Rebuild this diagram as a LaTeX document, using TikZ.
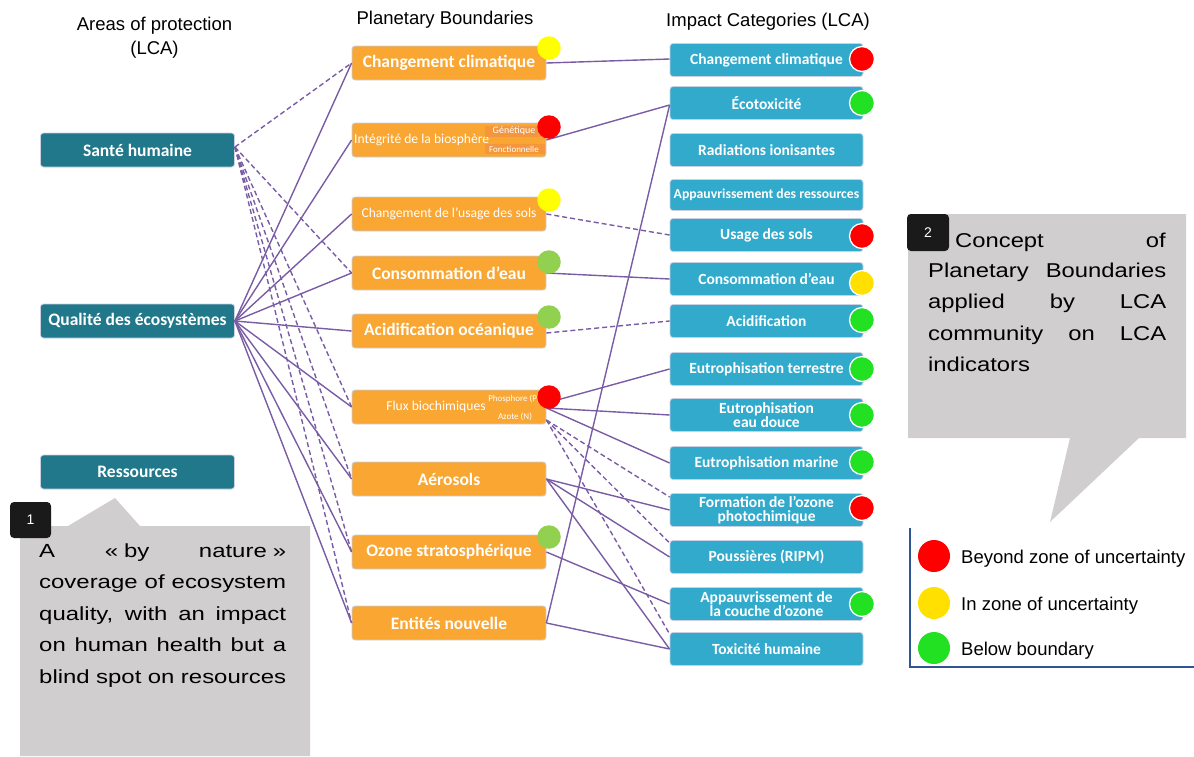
\documentclass[tikz,border=0pt]{standalone}
\usepackage{fontspec}
\setmainfont{Liberation Sans}
\newfontfamily\boxfont{Carlito}
\usetikzlibrary{calc}

\definecolor{aopteal}{RGB}{33,120,138}
\definecolor{pborange}{RGB}{249,166,50}
\definecolor{icblue}{RGB}{49,170,204}
\definecolor{linkpurple}{RGB}{122,92,165}
\definecolor{boxedge}{RGB}{200,208,225}
\definecolor{calloutgray}{RGB}{208,206,206}
\definecolor{badgeblack}{RGB}{26,26,26}
\definecolor{legendblue}{RGB}{47,85,150}
\definecolor{dotred}{RGB}{255,0,0}
\definecolor{dotyellow}{RGB}{255,255,0}
\definecolor{dotgold}{RGB}{255,224,0}
\definecolor{dotlime}{RGB}{146,208,80}
\definecolor{dotgreen}{RGB}{34,224,34}
\definecolor{tagorange}{RGB}{243,150,60}

\tikzset{
  basebox/.style={rectangle, rounded corners=3pt, draw=boxedge, line width=0.8pt,
    inner sep=0pt, text=white, align=center},
  aop/.style={basebox, fill=aopteal, minimum width=194pt, minimum height=34pt,
    font=\boxfont\bfseries\fontsize{17.5}{19}\selectfont},
  pb/.style={basebox, fill=pborange, minimum width=194pt, minimum height=34pt},
  pbbig/.style={pb, font=\boxfont\bfseries\fontsize{17.5}{19}\selectfont},
  pbsmall/.style={pb, font=\boxfont\fontsize{13.6}{15}\selectfont},
  pblabel/.style={text=white, inner sep=0pt, font=\boxfont\fontsize{13.6}{15}\selectfont},
  pbtag/.style={text=white, inner sep=0pt, font=\boxfont\fontsize{9}{10}\selectfont},
  ic/.style={basebox, fill=icblue, minimum width=193pt, minimum height=33pt,
    font=\boxfont\bfseries\fontsize{15.5}{14.5}\selectfont},
  link/.style={draw=linkpurple, line width=1.4pt},
  dlink/.style={link, dash pattern=on 5pt off 3pt},
  head/.style={inner sep=0pt, font=\fontsize{18.5}{22}\selectfont, anchor=base},
  badge/.style={rectangle, rounded corners=4pt, fill=badgeblack, text=white,
    font=\fontsize{14}{16}\selectfont, inner sep=0pt},
  legtext/.style={anchor=west, inner sep=0pt, font=\fontsize{18.5}{22}\selectfont},
  dot/.style={circle, inner sep=0pt, minimum size=23.5pt},
  icdot/.style={circle, inner sep=0pt, minimum size=25pt, draw=white, line width=1.3pt},
}

\begin{document}
\begin{tikzpicture}[x=1pt, y=-1pt]
\useasboundingbox (0,0) rectangle (1194,756);

% column headings
\node[head] (hAop) at (154.5,30) {Areas of protection};
\node[head] (hAop2) at (154.5,54) {(LCA)};
\node[head] (hPb) at (445,24) {Planetary Boundaries};
\node[head] (hIc) at (768,26) {Impact Categories (LCA)};

% areas of protection
\node[aop] (sh) at (137.5,150) {Santé humaine};
\node[aop] (qe) at (137.5,321) {Qualité des écosystèmes};
\node[aop] (rs) at (137.5,472) {Ressources};

% planetary boundaries
\node[pbbig]   (pb1) at (449,63)  {Changement climatique};
\node[pb]      (pb2) at (449,140) {};
\node[pbsmall] (pb3) at (449,214) {Changement de l’usage des sols};
\node[pbbig]   (pb4) at (449,273) {Consommation d’eau};
\node[pbbig]   (pb5) at (449,331) {Acidification océanique};
\node[pb]      (pb6) at (449,407) {};
\node[pbbig]   (pb7) at (449,479) {Aérosols};
\node[pbbig]   (pb8) at (449,552) {Ozone stratosphérique};
\node[pbbig]   (pb9) at (449,623) {Entités nouvelle};

\node[pblabel, anchor=west] (pb2t) at (354,140) {Intégrité de la biosphère};
\fill[tagorange] (485,126) rectangle (541,137);
\fill[tagorange] (485,144) rectangle (545,154);
\node[pbtag, font=\boxfont\fontsize{10}{10}\selectfont] (pb2a) at (514,131) {Génétique};
\node[pbtag] (pb2b) at (514,149) {Fonctionnelle};

\node[pblabel] (pb6t) at (436,407) {Flux biochimiques};
\node[pbtag] (pb6a) at (514,399) {Phosphore (P)};
\node[pbtag] (pb6b) at (515,417) {Azote (N)};

% impact categories
\node[ic] (ic1)  at (766.5,60)  {Changement climatique};
\node[ic] (ic2)  at (766.5,103) {Écotoxicité};
\node[ic] (ic3)  at (766.5,150) {Radiations ionisantes};
\node[ic, minimum height=31pt, font=\boxfont\bfseries\fontsize{13.7}{14}\selectfont]
          (ic4)  at (766.5,195) {Appauvrissement des ressources};
\node[ic] (ic5)  at (766.5,235) {Usage des sols};
\node[ic] (ic6)  at (766.5,279) {Consommation d’eau};
\node[ic] (ic7)  at (766.5,321) {Acidification};
\node[ic] (ic8)  at (766.5,369) {Eutrophisation terrestre};
\node[ic] (ic9)  at (766.5,415) {Eutrophisation\\eau douce};
\node[ic] (ic10) at (766.5,463) {Eutrophisation marine};
\node[ic] (ic11) at (766.5,510) {Formation de l’ozone\\photochimique};
\node[ic] (ic12) at (766.5,557) {Poussières (RIPM)};
\node[ic] (ic13) at (766.5,604) {Appauvrissement de\\la couche d’ozone};
\node[ic] (ic14) at (766.5,649) {Toxicité humaine};

% links: areas of protection -> planetary boundaries
\foreach \t in {pb1,pb4,pb6,pb7,pb8,pb9}
  \draw[dlink] ([yshift=3pt]sh.east) -- (\t.west);
\foreach \t in {pb1,pb2,pb3,pb4,pb5,pb6,pb7,pb8,pb9}
  \draw[link] (qe.east) -- (\t.west);

% links: planetary boundaries -> impact categories
\draw[link]  (pb1.east) -- ([yshift=1pt]ic1.west);
\draw[link]  (pb2.east) -- ([yshift=-2pt]ic2.west);
\draw[link]  (pb9.east) -- ([yshift=-2pt]ic2.west);
\draw[dlink] (pb3.east) -- (ic5.west);
\draw[link]  (pb4.east) -- (ic6.west);
\draw[dlink] ([yshift=-2pt]pb5.east) -- (ic7.west);
\draw[link]  ([yshift=4pt]pb6.east) -- (ic8.west);
\draw[link]  ([yshift=-1pt]pb6.east) -- (ic9.west);
\draw[link]  ([yshift=-1pt]pb6.east) -- (ic10.west);
\draw[dlink] ([yshift=-13pt]pb6.east) -- ([yshift=13pt]ic11.west);
\draw[dlink] ([yshift=-13pt]pb6.east) -- ([yshift=14pt]ic12.west);
\draw[dlink] ([yshift=-13pt]pb6.east) -- ([yshift=15pt]ic14.west);
\draw[link]  (pb7.east) -- (ic11.west);
\draw[link]  (pb7.east) -- (ic12.west);
\draw[link]  (pb7.east) -- (ic14.west);
\draw[link]  (pb8.east) -- (ic13.west);
\draw[link]  (pb9.east) -- (ic14.west);

% status dots on planetary boundaries
\node[dot, fill=dotyellow] (d1) at (549,48)  {};
\node[dot, fill=dotred]    (d2) at (549,127) {};
\node[dot, fill=dotyellow] (d3) at (549,200) {};
\node[dot, fill=dotlime]   (d4) at (549,262) {};
\node[dot, fill=dotlime]   (d5) at (549,317) {};
\node[dot, fill=dotred]    (d6) at (549,397) {};
\node[dot, fill=dotlime]   (d8) at (549,537) {};

% status dots on impact categories
\node[icdot, fill=dotred]   (e1)  at (862,59)  {};
\node[icdot, fill=dotgreen] (e2)  at (862,103) {};
\node[icdot, fill=dotred]   (e5)  at (862,236) {};
\node[icdot, fill=dotgold]  (e6)  at (862,283) {};
\node[icdot, fill=dotgreen] (e7)  at (862,320) {};
\node[icdot, fill=dotgreen] (e8)  at (862,369) {};
\node[icdot, fill=dotgreen] (e9)  at (862,415) {};
\node[icdot, fill=dotgreen] (e10) at (862,462) {};
\node[icdot, fill=dotred]   (e11) at (862,508) {};
\node[icdot, fill=dotgreen] (e13) at (862,604) {};

% callout 1
\fill[calloutgray] (20,526) -- (68,526) -- (115,498) -- (140,526) -- (310,526)
  -- (310,756) -- (20,756) -- cycle;
\node[badge, minimum width=41pt, minimum height=36pt] (b1) at (30.5,520) {1};
\begin{scope}[every node/.style={anchor=base west, inner sep=0pt, font=\fontsize{19}{22}\selectfont}]
  \node (c1a) at (39,557) {\scalebox{1.26}[1]{\makebox[196pt][s]{A\hfill«\kern.25em by\hfill nature\kern.25em»}}};
  \node (c1b) at (39,588.5) {\scalebox{1.26}[1]{\makebox[196pt][s]{coverage of ecosystem}}};
  \node (c1c) at (39,620) {\scalebox{1.26}[1]{\makebox[196pt][s]{quality, with an impact}}};
  \node (c1d) at (39,651.5) {\scalebox{1.26}[1]{\makebox[196pt][s]{on human health but a}}};
  \node (c1e) at (39,683) {\scalebox{1.26}[1]{\makebox[196pt][s]{blind spot on resources}}};
\end{scope}

% callout 2
\fill[calloutgray] (908,214) -- (1186,214) -- (1186,438) -- (1139,438) -- (1050,522)
  -- (1070,438) -- (908,438) -- cycle;
\node[badge, minimum width=42pt, minimum height=37pt] (b2) at (928,232.5) {2};
\begin{scope}[every node/.style={anchor=base west, inner sep=0pt, font=\fontsize{20}{24}\selectfont}]
  \node (c2a) at (955,247) {\scalebox{1.19}[1]{\makebox[177pt][s]{Concept\hfill of}}};
  \node (c2b) at (928,277.5) {\scalebox{1.19}[1]{\makebox[200pt][s]{Planetary Boundaries}}};
  \node (c2c) at (928,308.5) {\scalebox{1.19}[1]{\makebox[200pt][s]{applied\hfill by\hfill LCA}}};
  \node (c2d) at (928,340) {\scalebox{1.19}[1]{\makebox[200pt][s]{community\hfill on\hfill LCA}}};
  \node (c2e) at (928,371) {\scalebox{1.19}[1]{indicators}};
\end{scope}

% legend
\draw[legendblue, line width=1.3pt] (910,528) -- (910,667) -- (1194,667);
\node[dot, minimum size=32pt, fill=dotred]   (l1) at (934,556) {};
\node[dot, minimum size=32pt, fill=dotgold]  (l2) at (934,603) {};
\node[dot, minimum size=32pt, fill=dotgreen] (l3) at (934,648) {};
\node[legtext] (l1t) at (961,558.5) {Beyond zone of uncertainty};
\node[legtext] (l2t) at (961,605.5) {In zone of uncertainty};
\node[legtext] (l3t) at (961,650.5) {Below boundary};
\end{tikzpicture}
\end{document}
